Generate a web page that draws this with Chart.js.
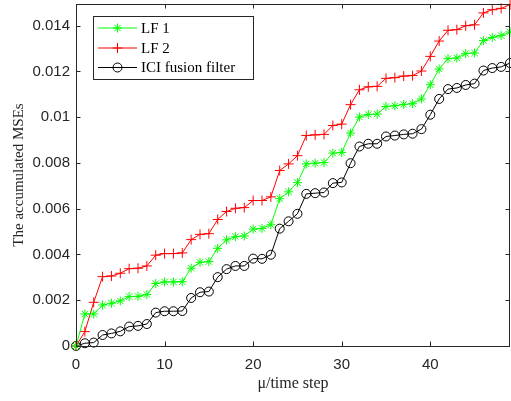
<!DOCTYPE html>
<html>
<head>
<meta charset="utf-8">
<script src="https://cdn.jsdelivr.net/npm/chart.js@4"></script>
<style>
  html, body { margin: 0; padding: 0; background: #fff; }
  #wrap { width: 511px; height: 401px; }
</style>
</head>
<body>
<div id="wrap"><canvas id="mse"></canvas></div>
<script>
// accumulated MSEs per time step
const steps = Array.from({ length: 50 }, (_, i) => i);
const lf1 = [0, 1.40, 1.40, 1.79, 1.87, 1.97, 2.16, 2.17, 2.25, 2.73,
  2.80, 2.80, 2.81, 3.40, 3.66, 3.69, 4.27, 4.64, 4.78, 4.81,
  5.11, 5.14, 5.30, 6.44, 6.74, 7.14, 7.96, 7.99, 8.02, 8.43,
  8.46, 9.31, 10.01, 10.12, 10.14, 10.47, 10.50, 10.56, 10.59, 10.80,
  11.42, 12.11, 12.56, 12.59, 12.78, 12.81, 13.35, 13.49, 13.57, 13.73];
const lf2 = [0, 0.63, 1.91, 3.03, 3.06, 3.18, 3.38, 3.40, 3.50, 3.97,
  4.04, 4.04, 4.07, 4.65, 4.88, 4.91, 5.53, 5.88, 6.02, 6.05,
  6.36, 6.36, 6.52, 7.67, 7.96, 8.32, 9.20, 9.23, 9.25, 9.64,
  9.70, 10.55, 11.20, 11.33, 11.35, 11.70, 11.73, 11.80, 11.82, 12.02,
  12.66, 13.33, 13.80, 13.83, 14.00, 14.04, 14.56, 14.70, 14.76, 14.92];
const ici = [0, 0.12, 0.15, 0.48, 0.55, 0.64, 0.85, 0.88, 0.96, 1.46,
  1.52, 1.52, 1.53, 2.10, 2.35, 2.38, 3.01, 3.36, 3.50, 3.50,
  3.82, 3.81, 3.99, 5.13, 5.45, 5.78, 6.65, 6.68, 6.71, 7.12,
  7.15, 7.99, 8.72, 8.84, 8.84, 9.16, 9.20, 9.25, 9.28, 9.48,
  10.11, 10.80, 11.23, 11.28, 11.41, 11.47, 12.04, 12.15, 12.20, 12.37];
const xTicks = [0, 10, 20, 30, 40];
const yTicks = [0, 0.002, 0.004, 0.006, 0.008, 0.01, 0.012, 0.014];

const axisColor = '#262626';
const serif = '"Liberation Serif", "DejaVu Serif", serif';
const sans = '"Liberation Sans", Arial, sans-serif';

// markers must not push the plot area inwards (MATLAB draws them over the box)
Chart.registry.getController('line').prototype.getMaxOverflow = function () { return 0; };

function pts(arr) {
  return arr.map((v, i) => ({ x: steps[i], y: v / 1000 }));
}

const series = [
  { label: 'LF 1', data: pts(lf1), color: '#00ff00', style: 'star', r: 4.5 },
  { label: 'LF 2', data: pts(lf2), color: '#ff0000', style: 'cross', r: 5 },
  { label: 'ICI fusion filter', data: pts(ici), color: '#000000', style: 'circle', r: 4.5 }
];

// box around the axes, inward ticks on all four sides, legend in the upper left
const matlabAxes = {
  id: 'matlabAxes',
  afterDraw(chart) {
    const ctx = chart.ctx;
    const a = chart.chartArea;
    const xs = chart.scales.x, ys = chart.scales.y;
    ctx.save();
    ctx.strokeStyle = axisColor;
    ctx.lineWidth = 1;
    ctx.strokeRect(a.left + 0.5, a.top + 0.5, a.right - a.left - 1, a.bottom - a.top);
    const tl = 4.5;
    ctx.beginPath();
    xTicks.forEach(v => {
      const px = Math.round(xs.getPixelForValue(v)) + 0.5;
      ctx.moveTo(px, a.bottom); ctx.lineTo(px, a.bottom - tl);
      ctx.moveTo(px, a.top); ctx.lineTo(px, a.top + tl);
    });
    yTicks.forEach(v => {
      const py = Math.round(ys.getPixelForValue(v)) + 0.5;
      ctx.moveTo(a.left, py); ctx.lineTo(a.left + tl, py);
      ctx.moveTo(a.right, py); ctx.lineTo(a.right - tl, py);
    });
    ctx.stroke();

    // legend
    const bx = 93.5, by = 16.5, bw = 160, bh = 63;
    ctx.fillStyle = '#fff';
    ctx.fillRect(bx, by, bw, bh);
    ctx.strokeStyle = axisColor;
    ctx.strokeRect(bx, by, bw, bh);
    ctx.font = '15px ' + serif;
    ctx.textBaseline = 'middle';
    const rows = [28, 48, 67.5];
    series.forEach((s, i) => {
      const y = rows[i];
      ctx.strokeStyle = s.color;
      ctx.lineWidth = 1;
      ctx.beginPath();
      ctx.moveTo(98, y); ctx.lineTo(137, y);
      ctx.stroke();
      ctx.fillStyle = 'rgba(0,0,0,0)';
      Chart.helpers.drawPoint(ctx, {
        pointStyle: s.style, radius: s.r, borderWidth: 1, rotation: 0
      }, 117.5, y);
      ctx.fillStyle = '#000';
      ctx.fillText(s.label, 141, y + 1);
    });
    ctx.restore();
  }
};

new Chart(document.getElementById('mse'), {
  type: 'line',
  data: {
    datasets: series.map(s => ({
      label: s.label,
      data: s.data,
      borderColor: s.color,
      borderWidth: 1,
      backgroundColor: 'rgba(0,0,0,0)',
      pointStyle: s.style,
      pointRadius: s.r,
      pointHoverRadius: s.r,
      pointBorderColor: s.color,
      pointBackgroundColor: 'rgba(0,0,0,0)',
      pointBorderWidth: 1,
      tension: 0,
      clip: false
    }))
  },
  options: {
    responsive: true,
    maintainAspectRatio: false,
    animation: false,
    layout: { padding: { top: 4, right: 1, left: 0, bottom: 0 } },
    plugins: { legend: { display: false }, tooltip: { enabled: false } },
    scales: {
      x: {
        type: 'linear',
        min: 0,
        max: 49,
        afterBuildTicks: sc => { sc.ticks = xTicks.map(v => ({ value: v })); },
        afterFit: sc => { sc.height = 55; sc.paddingLeft = 0; sc.paddingRight = 0; },
        grid: { display: false, drawTicks: false },
        border: { display: false },
        ticks: {
          padding: 10,
          color: axisColor,
          font: { family: sans, size: 15 },
          maxRotation: 0,
          callback: v => String(v)
        },
        title: {
          display: true,
          text: 'μ/time step',
          color: axisColor,
          font: { family: serif, size: 16 },
          padding: { top: 0, bottom: 8 }
        }
      },
      y: {
        type: 'linear',
        min: 0,
        max: 0.01495,
        afterBuildTicks: sc => { sc.ticks = yTicks.map(v => ({ value: v })); },
        afterFit: sc => { sc.width = 76; sc.paddingTop = 0; sc.paddingBottom = 0; },
        grid: { display: false, drawTicks: false },
        border: { display: false },
        ticks: {
          padding: 6,
          color: axisColor,
          font: { family: sans, size: 15 },
          callback: v => String(+v.toFixed(3))
        },
        title: {
          display: true,
          text: 'The accumulated MSEs',
          color: axisColor,
          font: { family: serif, size: 15 },
          padding: { top: 10, bottom: 0 }
        }
      }
    }
  },
  plugins: [matlabAxes]
});
</script>
</body>
</html>
